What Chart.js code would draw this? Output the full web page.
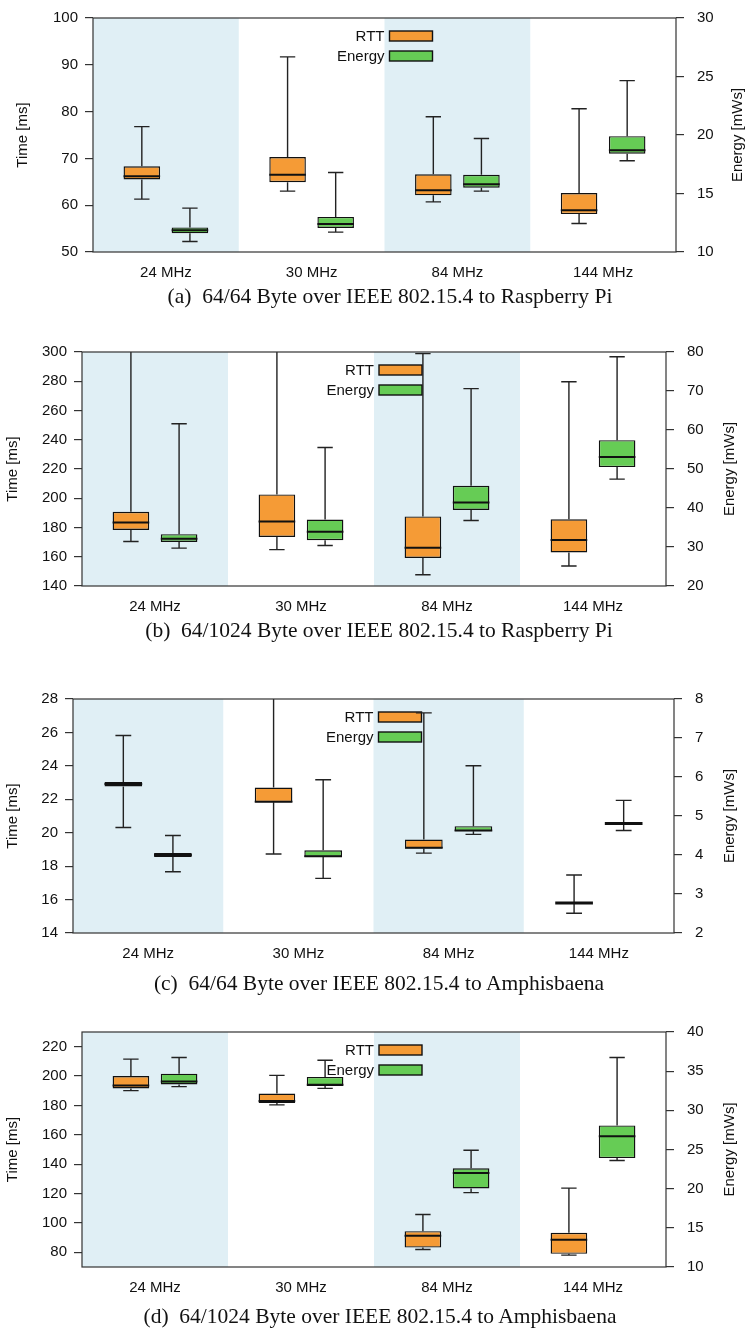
<!DOCTYPE html>
<html>
<head>
<meta charset="utf-8">
<script src="https://cdn.jsdelivr.net/npm/chart.js@4.4.1/dist/chart.umd.min.js"></script>
<style>
  body { margin: 0; background: #fff; }
  #page { position: relative; width: 749px; height: 1331px; overflow: hidden; }
  canvas { position: absolute; left: 0; }
  .cap {
    position: absolute; transform: translate(-50%, -50%);
    font-family: "Liberation Serif", "Times New Roman", serif; font-size: 21.5px;
    color: #111; white-space: pre;
  }
</style>
</head>
<body>
<div id="page"></div>
<script>
const categories = ['24 MHz', '30 MHz', '84 MHz', '144 MHz'];

// (a) 64/64 Byte, Raspberry Pi
const rttLowA   = [61.3, 63.0, 60.7, 56.1];
const rttQ1A    = [65.5, 64.9, 62.1, 58.1];
const rttMedA   = [66.2, 66.5, 63.2, 58.9];
const rttQ3A    = [68.3, 70.3, 66.6, 62.6];
const rttHighA  = [76.8, 91.7, 78.9, 80.6];
const enLowA    = [10.9, 11.7, 15.2, 17.8];
const enQ1A     = [11.6, 12.05, 15.5, 18.4];
const enMedA    = [11.85, 12.4, 15.8, 18.7];
const enQ3A     = [12.1, 13.0, 16.6, 19.9];
const enHighA   = [13.75, 16.8, 19.7, 24.65];
const timeTicksA = [50, 60, 70, 80, 90, 100];
const enTicksA   = [10, 15, 20, 25, 30];

// (b) 64/1024 Byte, Raspberry Pi
const rttLowB   = [170.4, 164.9, 147.7, 153.7];
const rttQ1B    = [178.3, 173.5, 159.2, 162.9];
const rttMedB   = [183.4, 184.1, 166.2, 171.5];
const rttQ3B    = [190.7, 202.6, 187.6, 185.6];
const rttHighB  = [330, 340, 298.9, 279.7];
const enLowB    = [29.7, 30.4, 36.8, 47.4];
const enQ1B     = [31.3, 31.75, 39.5, 50.5];
const enMedB    = [32.1, 33.9, 41.4, 53.1];
const enQ3B     = [33.3, 37.05, 45.7, 57.4];
const enHighB   = [61.6, 55.5, 70.6, 78.8];
const timeTicksB = [140, 160, 180, 200, 220, 240, 260, 280, 300];
const enTicksB   = [20, 30, 40, 50, 60, 70, 80];

// (c) 64/64 Byte, Amphisbaena
const rttLowC   = [20.31, 18.73, 18.78, 15.18];
const rttQ1C    = [22.77, 21.83, 19.05, 15.8];
const rttMedC   = [22.91, 21.86, 19.1, 15.8];
const rttQ3C    = [23.03, 22.7, 19.59, 15.8];
const rttHighC  = [25.82, 29.5, 27.17, 17.47];
const enLowC    = [3.57, 3.4, 4.53, 4.63];
const enQ1C     = [3.95, 3.95, 4.61, 4.81];
const enMedC    = [4.0, 3.97, 4.63, 4.81];
const enQ3C     = [4.05, 4.12, 4.74, 4.81];
const enHighC   = [4.5, 5.93, 6.29, 5.4];
const timeTicksC = [14, 16, 18, 20, 22, 24, 26, 28];
const enTicksC   = [2, 3, 4, 5, 6, 7, 8];

// (d) 64/1024 Byte, Amphisbaena
const rttLowD   = [190.1, 180.4, 81.9, 78.1];
const rttQ1D    = [191.6, 181.7, 83.2, 79.0];
const rttMedD   = [193.6, 183.0, 91.3, 88.5];
const rttQ3D    = [200.0, 188.1, 94.4, 93.3];
const rttHighD  = [211.5, 200.5, 105.7, 123.7];
const enLowD    = [33.03, 32.8, 19.5, 23.6];
const enQ1D     = [33.31, 33.1, 20.03, 23.9];
const enMedD    = [33.69, 33.27, 22.0, 26.7];
const enQ3D     = [34.68, 34.26, 22.6, 28.07];
const enHighD   = [36.74, 36.4, 24.9, 36.74];
const timeTicksD = [80, 100, 120, 140, 160, 180, 200, 220];
const enTicksD   = [10, 15, 20, 25, 30, 35, 40];

const FONT = '"Liberation Sans", Arial, Helvetica, sans-serif';
const ORANGE = '#f59b36';
const GREEN = '#66cc55';
const BAND = '#e0eff5';
const PAD_TOP = 14, X_H = 40, W = 749;

const panels = [
  { left: 93, right: 676, top: 10, bottom: 252, capX: 390, capY: 296,
    caption: '(a)  64/64 Byte over IEEE 802.15.4 to Raspberry Pi',
    timeRange: [50, 100], enRange: [10, 30], timeTicks: timeTicksA, enTicks: enTicksA,
    lPad: 14, rTitleX: 738,
    rtt: [rttLowA, rttQ1A, rttMedA, rttQ3A, rttHighA], en: [enLowA, enQ1A, enMedA, enQ3A, enHighA] },
  { left: 82, right: 666, top: 344, bottom: 586, capX: 379, capY: 630,
    caption: '(b)  64/1024 Byte over IEEE 802.15.4 to Raspberry Pi',
    timeRange: [140, 300], enRange: [20, 80], timeTicks: timeTicksB, enTicks: enTicksB,
    lPad: 4, rTitleX: 729.5,
    rtt: [rttLowB, rttQ1B, rttMedB, rttQ3B, rttHighB], en: [enLowB, enQ1B, enMedB, enQ3B, enHighB] },
  { left: 73, right: 674, top: 691, bottom: 933, capX: 379, capY: 983,
    caption: '(c)  64/64 Byte over IEEE 802.15.4 to Amphisbaena',
    timeRange: [14, 28], enRange: [2, 8], timeTicks: timeTicksC, enTicks: enTicksC,
    lPad: 4, rTitleX: 729.5,
    rtt: [rttLowC, rttQ1C, rttMedC, rttQ3C, rttHighC], en: [enLowC, enQ1C, enMedC, enQ3C, enHighC] },
  { left: 82, right: 666, top: 1024, bottom: 1267, capX: 380, capY: 1316,
    caption: '(d)  64/1024 Byte over IEEE 802.15.4 to Amphisbaena',
    timeRange: [70, 230], enRange: [10, 40], timeTicks: timeTicksD, enTicks: enTicksD,
    lPad: 4, rTitleX: 729.5,
    rtt: [rttLowD, rttQ1D, rttMedD, rttQ3D, rttHighD], en: [enLowD, enQ1D, enMedD, enQ3D, enHighD] }
];

// bands, legend, whiskers, medians, frame and the upward right-hand title
function boxPlugin(p) {
  return {
    id: 'boxplot',
    beforeDatasetsDraw(chart) {
      const { ctx, chartArea: a, scales: { x } } = chart;
      ctx.save();
      ctx.fillStyle = BAND;
      [0, 2].forEach(i => {
        const l = Math.max(a.left, x.getPixelForValue(i - 0.5));
        const r = Math.min(a.right, x.getPixelForValue(i + 0.5));
        ctx.fillRect(l, a.top, r - l, a.bottom - a.top);
      });
      const lx = (a.left + a.right) / 2 + 5;
      chart.data.datasets.forEach((ds, i) => {
        const top = a.top + 13 + i * 20;
        ctx.fillStyle = ds.backgroundColor;
        ctx.fillRect(lx, top, 43, 10);
        ctx.strokeStyle = '#111';
        ctx.lineWidth = 1.4;
        ctx.strokeRect(lx, top, 43, 10);
        ctx.fillStyle = '#111';
        ctx.font = '15px ' + FONT;
        ctx.textAlign = 'right';
        ctx.textBaseline = 'middle';
        ctx.fillText(ds.label, lx - 5, top + 5.5);
      });
      ctx.restore();
    },
    afterDatasetsDraw(chart) {
      const { ctx, chartArea: a } = chart;
      ctx.save();
      ctx.beginPath();
      ctx.rect(a.left, a.top, a.right - a.left, a.bottom - a.top);
      ctx.clip();
      chart.data.datasets.forEach((ds, di) => {
        const y = chart.scales[ds.yAxisID];
        chart.getDatasetMeta(di).data.forEach((bar, i) => {
          const { x, width } = bar.getProps(['x', 'width'], true);
          const [q1, q3] = ds.data[i];
          const cap = width * 0.42;
          const yHi = y.getPixelForValue(ds.high[i]);
          const yLo = y.getPixelForValue(ds.low[i]);
          ctx.strokeStyle = '#222';
          ctx.lineWidth = 1.4;
          ctx.beginPath();
          ctx.moveTo(x, y.getPixelForValue(q3)); ctx.lineTo(x, yHi);
          ctx.moveTo(x - cap / 2, yHi); ctx.lineTo(x + cap / 2, yHi);
          ctx.moveTo(x, y.getPixelForValue(q1)); ctx.lineTo(x, yLo);
          ctx.moveTo(x - cap / 2, yLo); ctx.lineTo(x + cap / 2, yLo);
          ctx.stroke();
          const ym = y.getPixelForValue(ds.median[i]);
          ctx.strokeStyle = '#111';
          ctx.lineWidth = q1 === q3 ? 3 : 2;
          ctx.beginPath();
          ctx.moveTo(x - width / 2, ym); ctx.lineTo(x + width / 2, ym);
          ctx.stroke();
        });
      });
      ctx.restore();
      ctx.save();
      ctx.strokeStyle = '#333';
      ctx.lineWidth = 1.2;
      ctx.strokeRect(a.left, a.top, a.right - a.left, a.bottom - a.top);
      ctx.restore();
    },
    afterDraw(chart) {
      const { ctx, chartArea: a } = chart;
      ctx.save();
      ctx.translate(p.rTitleX, (a.top + a.bottom) / 2);
      ctx.rotate(-Math.PI / 2);
      ctx.fillStyle = '#111';
      ctx.font = '15px ' + FONT;
      ctx.textAlign = 'center';
      ctx.textBaseline = 'middle';
      ctx.fillText('Energy [mWs]', 0, 0);
      ctx.restore();
    }
  };
}

function boxSet(label, color, axis, s) {
  return {
    label, yAxisID: axis, backgroundColor: color,
    borderColor: '#111', borderWidth: 1.4, borderSkipped: false,
    data: s[1].map((v, i) => [v, s[3][i]]),
    low: s[0], median: s[2], high: s[4],
    categoryPercentage: 0.66, barPercentage: 0.76
  };
}

function valueAxis(side, range, ticks, title, titlePad, width) {
  return {
    type: 'linear', position: side, min: range[0], max: range[1],
    afterBuildTicks: s => { s.ticks = ticks.map(v => ({ value: v })); },
    afterFit: s => { s.width = width; },
    grid: { drawOnChartArea: false, drawTicks: true, tickLength: 8, color: '#333', lineWidth: 1.2 },
    border: { display: false },
    ticks: { padding: side === 'left' ? 7 : 13, color: '#111', font: { family: FONT, size: 15 } },
    title: { display: side === 'left', text: title, color: '#111', font: { family: FONT, size: 15 },
             padding: { top: titlePad, bottom: 0 } }
  };
}

const page = document.getElementById('page');
panels.forEach(p => {
  const canvas = document.createElement('canvas');
  const h = (p.bottom - p.top) + PAD_TOP + X_H;
  canvas.width = W;
  canvas.height = h;
  canvas.style.top = (p.top - PAD_TOP) + 'px';
  page.appendChild(canvas);

  const cap = document.createElement('div');
  cap.className = 'cap';
  cap.textContent = p.caption;
  cap.style.left = p.capX + 'px';
  cap.style.top = p.capY + 'px';
  page.appendChild(cap);

  new Chart(canvas.getContext('2d'), {
    type: 'bar',
    data: {
      labels: categories,
      datasets: [
        boxSet('RTT', ORANGE, 'y', p.rtt),
        boxSet('Energy', GREEN, 'y1', p.en)
      ]
    },
    options: {
      responsive: false,
      animation: false,
      devicePixelRatio: 1,
      layout: { padding: { top: PAD_TOP, left: 0, right: 0, bottom: 0 } },
      plugins: { legend: { display: false }, tooltip: { enabled: false } },
      scales: {
        x: {
          type: 'category', offset: true,
          afterFit: s => { s.height = X_H; },
          grid: { display: false, drawTicks: false },
          border: { display: false },
          ticks: { padding: 12, color: '#111', font: { family: FONT, size: 15 } }
        },
        y: valueAxis('left', p.timeRange, p.timeTicks, 'Time [ms]', p.lPad, p.left),
        y1: valueAxis('right', p.enRange, p.enTicks, 'Energy [mWs]', 0, W - p.right)
      }
    },
    plugins: [boxPlugin(p)]
  });
});
</script>
</body>
</html>
